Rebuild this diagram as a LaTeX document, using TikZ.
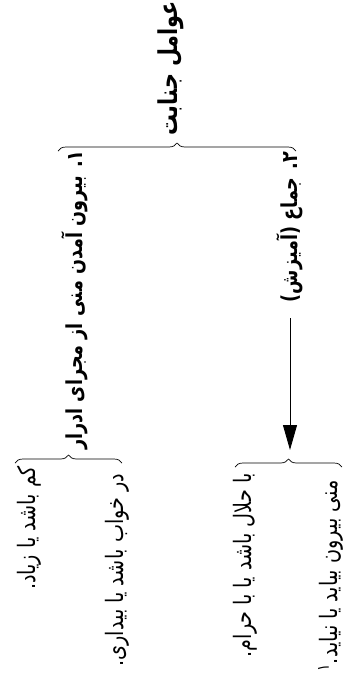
\documentclass[tikz,border=0pt]{standalone}
\usepackage{fontspec}
\newfontfamily\farsi[Script=Arabic,FakeStretch=0.8]{DejaVu Sans}
\TeXXeTstate=1
\usetikzlibrary{arrows.meta,decorations.pathreplacing}
\tikzset{
  branch/.style={rotate=90, inner sep=1pt, font=\farsi\fontsize{24}{28}\selectfont},
  headbox/.style={branch, font=\farsi\bfseries\fontsize{22}{26}\selectfont},
  curly/.style={decorate, decoration={brace, amplitude=8pt}, line width=0.7pt},
  pointer/.style={-{Triangle[length=25pt,width=14pt]}, line width=0.9pt}
}
\begin{document}
\begin{tikzpicture}[x=1pt,y=-1pt]
\useasboundingbox (0,0) rectangle (343,697);

\node[headbox, font=\farsi\bfseries\fontsize{26}{30}\selectfont] (title) at (171,68) {\beginR عوامل جنابت\endR};

\node[headbox] (khoruj) at (75,300) {\beginR ۱. بیرون آمدن منی از مجرای ادرار\endR};
\node[headbox] (jima) at (290,227) {\beginR ۲. جماع (آمیزش)\endR};

\node[branch] (kam) at (29,528) {\beginR کم باشد یا زیاد.\endR};
\node[branch] (khab) at (117,570) {\beginR در خواب باشد یا بیداری.\endR};
\node[branch] (halal) at (245,565) {\beginR با حلال باشد یا با حرام.\endR};
\node[branch] (mani) at (331,576) {\beginR منی بیرون بیاید یا نیاید.\textsuperscript{۱}\endR};

\coordinate (b0l) at (58,151);
\coordinate (b0r) at (296,151);
\coordinate (b1l) at (15,463);
\coordinate (b1r) at (122,463);
\coordinate (b2l) at (235,467);
\coordinate (b2r) at (342,467);
\coordinate (b2top) at (290,450);

\draw[curly] (b0l) -- (b0r);
\draw[curly] (b1l) -- (b1r);
\draw[curly] (b2l) -- (b2r);
\draw[pointer, shorten <=15pt] (jima) -- (b2top);
\end{tikzpicture}
\end{document}
